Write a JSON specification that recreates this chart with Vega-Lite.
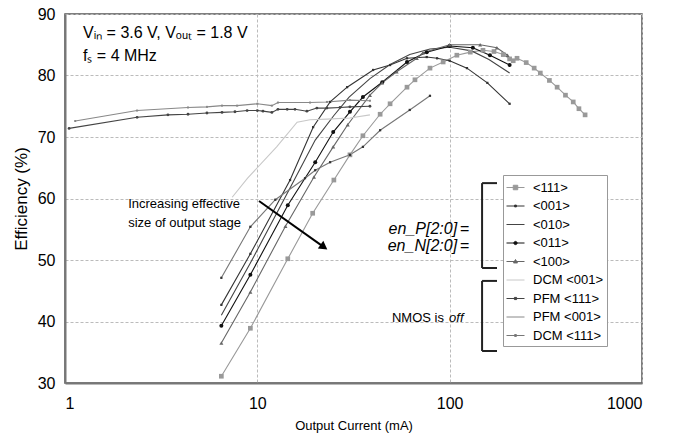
{
  "$schema": "https://vega.github.io/schema/vega-lite/v6.json",
  "width": 577,
  "height": 369,
  "autosize": {"type": "none"},
  "padding": {"left": 65, "top": 14, "right": 41, "bottom": 54},
  "background": "white",
  "config": {
    "font": "Liberation Sans",
    "view": {"stroke": "#555", "strokeWidth": 1.5}
  },
  "datasets": {
    "curves": [
      {"s": "<111>", "I": 6.5, "E": 31.1}, {"s": "<111>", "I": 9.2, "E": 38.9}, {"s": "<111>", "I": 14.4, "E": 50.2}, {"s": "<111>", "I": 19.4, "E": 57.6}, {"s": "<111>", "I": 25, "E": 63}, {"s": "<111>", "I": 30.3, "E": 67.1}, {"s": "<111>", "I": 35.4, "E": 70.2}, {"s": "<111>", "I": 43.5, "E": 73.7}, {"s": "<111>", "I": 49, "E": 75.4}, {"s": "<111>", "I": 60, "E": 78.1}, {"s": "<111>", "I": 66, "E": 79.3}, {"s": "<111>", "I": 79, "E": 81.2}, {"s": "<111>", "I": 92.5, "E": 82.2}, {"s": "<111>", "I": 109, "E": 83.3}, {"s": "<111>", "I": 128, "E": 83.8}, {"s": "<111>", "I": 149, "E": 84.1}, {"s": "<111>", "I": 170, "E": 83.9}, {"s": "<111>", "I": 190, "E": 83.4}, {"s": "<111>", "I": 205, "E": 82.7}, {"s": "<111>", "I": 214, "E": 82.4}, {"s": "<111>", "I": 224, "E": 82.8}, {"s": "<111>", "I": 250, "E": 82.1}, {"s": "<111>", "I": 275, "E": 81.2}, {"s": "<111>", "I": 296, "E": 80.4}, {"s": "<111>", "I": 330, "E": 79.2}, {"s": "<111>", "I": 362, "E": 78.1}, {"s": "<111>", "I": 400, "E": 76.8}, {"s": "<111>", "I": 439, "E": 75.7}, {"s": "<111>", "I": 470, "E": 74.6}, {"s": "<111>", "I": 506, "E": 73.6},
      {"s": "<001>", "I": 6.5, "E": 42.7}, {"s": "<001>", "I": 9.2, "E": 51}, {"s": "<001>", "I": 14.8, "E": 63}, {"s": "<001>", "I": 19.5, "E": 71.6}, {"s": "<001>", "I": 23.9, "E": 75.7}, {"s": "<001>", "I": 29.3, "E": 78.1}, {"s": "<001>", "I": 40, "E": 80.9}, {"s": "<001>", "I": 49, "E": 81.7}, {"s": "<001>", "I": 60, "E": 82.8}, {"s": "<001>", "I": 76, "E": 83}, {"s": "<001>", "I": 86, "E": 82.8}, {"s": "<001>", "I": 100, "E": 82.4}, {"s": "<001>", "I": 123, "E": 81.2}, {"s": "<001>", "I": 157, "E": 78.8}, {"s": "<001>", "I": 205, "E": 75.4},
      {"s": "<010>", "I": 6.5, "E": 41}, {"s": "<010>", "I": 9.2, "E": 49.5}, {"s": "<010>", "I": 14.4, "E": 61}, {"s": "<010>", "I": 20, "E": 69.5}, {"s": "<010>", "I": 25, "E": 73.5}, {"s": "<010>", "I": 30, "E": 76.5}, {"s": "<010>", "I": 38.5, "E": 79.5}, {"s": "<010>", "I": 49, "E": 81.8}, {"s": "<010>", "I": 62, "E": 83.4}, {"s": "<010>", "I": 79, "E": 84.3}, {"s": "<010>", "I": 100, "E": 84.6}, {"s": "<010>", "I": 130, "E": 84}, {"s": "<010>", "I": 160, "E": 82.6}, {"s": "<010>", "I": 205, "E": 80.4},
      {"s": "<011>", "I": 6.5, "E": 39.3}, {"s": "<011>", "I": 9.2, "E": 47.6}, {"s": "<011>", "I": 14.4, "E": 58.9}, {"s": "<011>", "I": 20, "E": 65.9}, {"s": "<011>", "I": 24.8, "E": 70.8}, {"s": "<011>", "I": 30.3, "E": 74.1}, {"s": "<011>", "I": 35.4, "E": 76.5}, {"s": "<011>", "I": 44.6, "E": 78.9}, {"s": "<011>", "I": 60, "E": 82.2}, {"s": "<011>", "I": 76, "E": 83.8}, {"s": "<011>", "I": 100, "E": 84.8}, {"s": "<011>", "I": 132, "E": 84.5}, {"s": "<011>", "I": 162, "E": 83.3}, {"s": "<011>", "I": 205, "E": 81.7},
      {"s": "<100>", "I": 6.5, "E": 36.5}, {"s": "<100>", "I": 9.2, "E": 44.8}, {"s": "<100>", "I": 14, "E": 55.5}, {"s": "<100>", "I": 19.7, "E": 63.5}, {"s": "<100>", "I": 24.8, "E": 68.4}, {"s": "<100>", "I": 29.5, "E": 72}, {"s": "<100>", "I": 38.5, "E": 76.8}, {"s": "<100>", "I": 44.6, "E": 78.8}, {"s": "<100>", "I": 53, "E": 80.6}, {"s": "<100>", "I": 67.5, "E": 82.8}, {"s": "<100>", "I": 72.6, "E": 83.7}, {"s": "<100>", "I": 100, "E": 85}, {"s": "<100>", "I": 144, "E": 85}, {"s": "<100>", "I": 176, "E": 84.5}, {"s": "<100>", "I": 200, "E": 83.3},
      {"s": "DCM <001>", "I": 7.4, "E": 60.2}, {"s": "DCM <001>", "I": 8.9, "E": 63.3}, {"s": "DCM <001>", "I": 12.6, "E": 68.4}, {"s": "DCM <001>", "I": 16.1, "E": 72.4}, {"s": "DCM <001>", "I": 18.8, "E": 72.8}, {"s": "DCM <001>", "I": 23, "E": 72.9}, {"s": "DCM <001>", "I": 30.3, "E": 73.1}, {"s": "DCM <001>", "I": 38.5, "E": 73.6},
      {"s": "PFM <111>", "I": 1.05, "E": 71.4}, {"s": "PFM <111>", "I": 2.37, "E": 73.2}, {"s": "PFM <111>", "I": 3.43, "E": 73.6}, {"s": "PFM <111>", "I": 4.36, "E": 73.7}, {"s": "PFM <111>", "I": 5.47, "E": 73.9}, {"s": "PFM <111>", "I": 6.55, "E": 74}, {"s": "PFM <111>", "I": 7.65, "E": 74.1}, {"s": "PFM <111>", "I": 8.85, "E": 74.3}, {"s": "PFM <111>", "I": 10, "E": 74.3}, {"s": "PFM <111>", "I": 10.7, "E": 74.2}, {"s": "PFM <111>", "I": 11.9, "E": 74}, {"s": "PFM <111>", "I": 12.8, "E": 74.5}, {"s": "PFM <111>", "I": 14.3, "E": 74.5}, {"s": "PFM <111>", "I": 15.7, "E": 74.5}, {"s": "PFM <111>", "I": 18.1, "E": 74.2}, {"s": "PFM <111>", "I": 20.4, "E": 74.7}, {"s": "PFM <111>", "I": 23, "E": 74.7}, {"s": "PFM <111>", "I": 26.9, "E": 74.8}, {"s": "PFM <111>", "I": 30.3, "E": 74.9}, {"s": "PFM <111>", "I": 38.5, "E": 75},
      {"s": "PFM <001>", "I": 1.13, "E": 72.6}, {"s": "PFM <001>", "I": 2.37, "E": 74.3}, {"s": "PFM <001>", "I": 4.36, "E": 74.8}, {"s": "PFM <001>", "I": 5.47, "E": 74.9}, {"s": "PFM <001>", "I": 6.55, "E": 75.1}, {"s": "PFM <001>", "I": 7.85, "E": 75.1}, {"s": "PFM <001>", "I": 10, "E": 75.4}, {"s": "PFM <001>", "I": 11.9, "E": 75.1}, {"s": "PFM <001>", "I": 12.8, "E": 75.6}, {"s": "PFM <001>", "I": 18.8, "E": 75.6}, {"s": "PFM <001>", "I": 23, "E": 75.7}, {"s": "PFM <001>", "I": 30.3, "E": 76}, {"s": "PFM <001>", "I": 38.5, "E": 75.9},
      {"s": "DCM <111>", "I": 6.5, "E": 47.1}, {"s": "DCM <111>", "I": 9.2, "E": 55.4}, {"s": "DCM <111>", "I": 12.4, "E": 59.8}, {"s": "DCM <111>", "I": 17.7, "E": 63.3}, {"s": "DCM <111>", "I": 20, "E": 64.6}, {"s": "DCM <111>", "I": 23.9, "E": 65.9}, {"s": "DCM <111>", "I": 30.3, "E": 67.1}, {"s": "DCM <111>", "I": 35.4, "E": 68.4}, {"s": "DCM <111>", "I": 43.5, "E": 71.1}, {"s": "DCM <111>", "I": 62, "E": 74.4}, {"s": "DCM <111>", "I": 79, "E": 76.7}
    ]
  },
  "encoding": {
    "x": {"field": "I", "type": "quantitative", "scale": {"type": "log", "domain": [1, 1000]},
      "axis": {"values": [1, 10, 100, 1000], "format": "d", "labelFontSize": 16, "labelColor": "#000", "labelPadding": 12, "ticks": false, "domainColor": "#777", "domainWidth": 2, "grid": true, "gridColor": "#bbb", "gridDash": [3, 2], "title": "Output Current (mA)", "titleFontSize": 13, "titleFontWeight": "normal", "titleColor": "#000", "titlePadding": 8}},
    "y": {"field": "E", "type": "quantitative", "scale": {"domain": [30, 90]},
      "axis": {"values": [30, 40, 50, 60, 70, 80, 90], "labelFontSize": 16, "labelColor": "#000", "labelPadding": 10, "ticks": false, "domainColor": "#777", "domainWidth": 2, "grid": true, "gridColor": "#bbb", "gridDash": [3, 2], "title": "Efficiency (%)", "titleFontSize": 17, "titleFontWeight": "normal", "titleColor": "#000", "titlePadding": 7}}
  },
  "layer": [
    {
      "data": {"name": "curves"},
      "mark": {"type": "line", "strokeWidth": 1.1},
      "encoding": {
        "detail": {"field": "s"},
        "color": {"field": "s", "type": "nominal",
          "scale": {"domain": ["<111>", "<001>", "<010>", "<011>", "<100>", "DCM <001>", "PFM <111>", "PFM <001>", "DCM <111>"],
            "range": ["#999999", "#333333", "#444444", "#111111", "#666666", "#c8c8c8", "#444444", "#888888", "#777777"]},
          "legend": {"orient": "none", "direction": "vertical", "columns": 1, "gridAlign": "all", "legendX": 438, "legendY": 161, "title": null, "padding": 3, "strokeColor": "#999", "fillColor": "white", "symbolType": "stroke", "symbolSize": 324, "symbolStrokeWidth": 1, "rowPadding": 1.5, "labelOffset": 8, "labelAlign": "left", "labelFont": "Liberation Sans", "labelFontSize": 13, "labelColor": "#000",
            "encode": {"symbols": {"update": {
              "shape": {"signal": "datum.value === '<111>' ? 'M-1,0H1M-0.25,-0.25H0.25V0.25H-0.25Z' : datum.value === '<011>' ? 'M-1,0H1M-0.18,0A0.18,0.18,0,1,0,0.18,0A0.18,0.18,0,1,0,-0.18,0Z' : datum.value === '<100>' ? 'M-1,0H1M0,-0.22L0.22,0.16H-0.22Z' : datum.value === 'PFM <111>' ? 'M-1,0H1M-0.12,-0.12H0.12V0.12H-0.12Z' : (datum.value === '<001>' || datum.value === 'DCM <111>') ? 'M-1,0H1M-0.1,-0.1H0.1V0.1H-0.1Z' : 'M-1,0H1'"},
              "fill": {"signal": "scale('color', datum.value)"}
            }}}}
        }
      }
    },
    {"data": {"name": "curves"}, "transform": [{"filter": {"field": "s", "equal": "<111>"}}],
      "mark": {"type": "point", "shape": "square", "size": 22, "filled": true, "color": "#999999", "opacity": 1}, "encoding": {}},
    {"data": {"name": "curves"}, "transform": [{"filter": {"field": "s", "oneOf": ["<001>", "DCM <111>"]}}],
      "mark": {"type": "point", "shape": "square", "size": 5, "filled": true, "color": "#333333", "opacity": 1}, "encoding": {}},
    {"data": {"name": "curves"}, "transform": [{"filter": {"field": "s", "equal": "<011>"}}],
      "mark": {"type": "point", "shape": "circle", "size": 16, "filled": true, "color": "#111111", "opacity": 1}, "encoding": {}},
    {"data": {"name": "curves"}, "transform": [{"filter": {"field": "s", "equal": "<100>"}}],
      "mark": {"type": "point", "shape": "triangle-up", "size": 16, "filled": true, "color": "#666666", "opacity": 1}, "encoding": {}},
    {"data": {"name": "curves"}, "transform": [{"filter": {"field": "s", "equal": "PFM <111>"}}],
      "mark": {"type": "point", "shape": "circle", "size": 8, "filled": true, "color": "#444444", "opacity": 1}, "encoding": {}},
    {"data": {"name": "curves"}, "transform": [{"filter": {"field": "s", "equal": "PFM <001>"}}],
      "mark": {"type": "point", "shape": "square", "size": 4, "filled": true, "color": "#888888", "opacity": 1}, "encoding": {}},
    {
      "data": {"values": [{"I": 1.24, "E": 86.1, "t": "Vᵢₙ = 3.6 V, Vₒᵤₜ = 1.8 V"}, {"I": 1.24, "E": 82.4, "t": "fₛ = 4 MHz"}]},
      "mark": {"type": "text", "align": "left", "baseline": "alphabetic", "fontSize": 16, "color": "#000"},
      "encoding": {"text": {"field": "t"}}
    },
    {
      "data": {"values": [{"I": 2.13, "E": 58.5, "t": "Increasing effective"}, {"I": 2.13, "E": 55.4, "t": "size of output stage"}]},
      "mark": {"type": "text", "align": "left", "baseline": "alphabetic", "fontSize": 13, "color": "#000"},
      "encoding": {"text": {"field": "t"}}
    },
    {
      "data": {"values": [{"I": 109.3, "E": 54.2, "t": "en_P[2:0]"}, {"I": 109.3, "E": 51.5, "t": "en_N[2:0]"}]},
      "mark": {"type": "text", "align": "right", "baseline": "alphabetic", "fontSize": 16, "fontStyle": "italic", "color": "#000"},
      "encoding": {"text": {"field": "t"}}
    },
    {
      "data": {"values": [{"I": 113.3, "E": 54.2, "t": "="}, {"I": 113.3, "E": 51.5, "t": "="}]},
      "mark": {"type": "text", "align": "left", "baseline": "alphabetic", "fontSize": 16, "color": "#000"},
      "encoding": {"text": {"field": "t"}}
    },
    {
      "data": {"values": [{"I": 50.1, "E": 39.9, "t": "NMOS is"}]},
      "mark": {"type": "text", "align": "left", "baseline": "alphabetic", "fontSize": 13, "color": "#000"},
      "encoding": {"text": {"field": "t"}}
    },
    {
      "data": {"values": [{"I": 99.3, "E": 39.9, "t": "off"}]},
      "mark": {"type": "text", "align": "left", "baseline": "alphabetic", "fontSize": 13, "fontStyle": "italic", "color": "#000"},
      "encoding": {"text": {"field": "t"}}
    },
    {
      "data": {"values": [{"I": 10.2, "E": 59.6, "I2": 22.2, "E2": 52.1}]},
      "mark": {"type": "rule", "strokeWidth": 2, "color": "#000"},
      "encoding": {"x2": {"field": "I2"}, "y2": {"field": "E2"}}
    },
    {
      "data": {"values": [{"I": 22.2, "E": 52.1}]},
      "mark": {"type": "point", "shape": "triangle-right", "angle": 35, "size": 90, "filled": true, "color": "#000", "opacity": 1},
      "encoding": {}
    },
    {
      "data": {"values": [
        {"I": 147.4, "E": 62.5, "I2": 147.4, "E2": 48.7},
        {"I": 147.4, "E": 62.5, "I2": 176.3, "E2": 62.5},
        {"I": 147.4, "E": 48.7, "I2": 176.3, "E2": 48.7},
        {"I": 147.4, "E": 46.6, "I2": 147.4, "E2": 35.2},
        {"I": 147.4, "E": 46.6, "I2": 176.3, "E2": 46.6},
        {"I": 147.4, "E": 35.2, "I2": 176.3, "E2": 35.2}
      ]},
      "mark": {"type": "rule", "strokeWidth": 2, "color": "#222"},
      "encoding": {"x2": {"field": "I2"}, "y2": {"field": "E2"}}
    }
  ]
}
